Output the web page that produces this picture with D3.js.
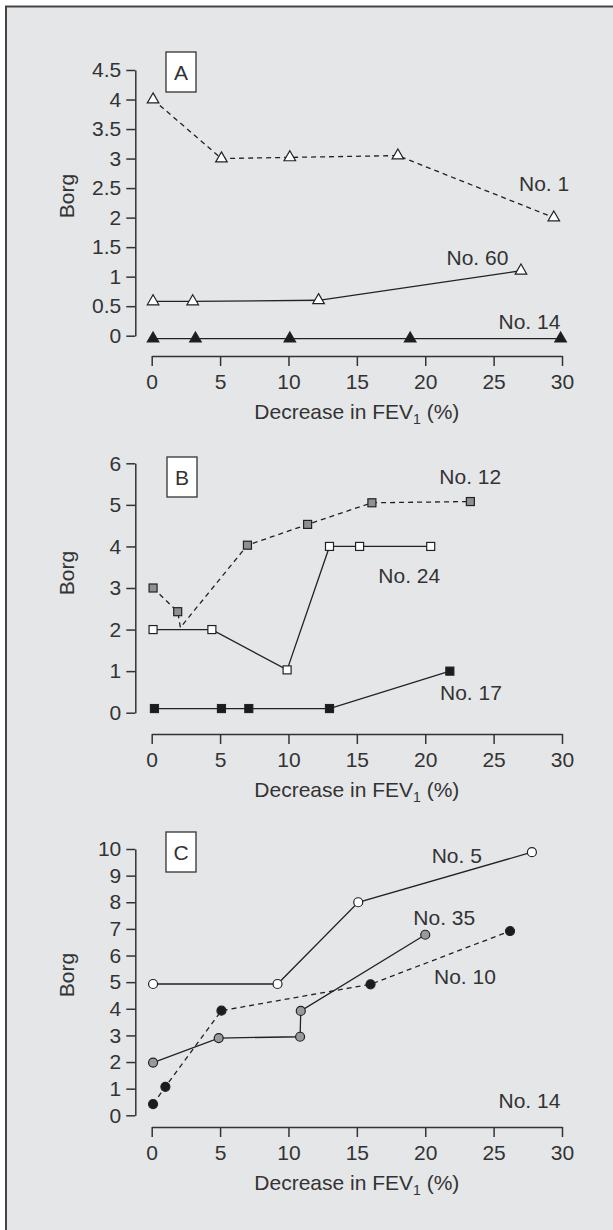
<html lang="en">
<head>
    <meta charset="UTF-8">
    <title>Borg vs decrease in FEV1</title>
    <script src="https://d3js.org/d3.v7.min.js"></script>
    <style>
        body { margin: 0; background: #fff; }
        svg text { font-family: "Liberation Sans", Arial, sans-serif; fill: #333; }
    </style>
</head>
<body>
    <script>
        // x ticks shared by all three panels
        const xTicks = [0, 5, 10, 15, 20, 25, 30];
        const yTicksA = [0, 0.5, 1, 1.5, 2, 2.5, 3, 3.5, 4, 4.5];
        const yTicksB = [0, 1, 2, 3, 4, 5, 6];
        const yTicksC = [0, 1, 2, 3, 4, 5, 6, 7, 8, 9, 10];

        // panel A  [decrease in FEV1 %, Borg]
        const no1 = [[0.1, 4.0], [5.1, 3.0], [10.1, 3.02], [18.0, 3.05], [29.4, 2.0]];
        const no60 = [[0.1, 0.58], [3.0, 0.58], [12.2, 0.6], [27.0, 1.1]];
        const no14 = [[0.1, -0.05], [3.2, -0.05], [10.1, -0.05], [18.9, -0.05], [29.9, -0.05]];

        // panel B
        const no12 = [[0.1, 3.0], [1.9, 2.43], [2.1, 2.05], [7.0, 4.03], [11.4, 4.53], [16.1, 5.05], [23.3, 5.08]];
        const no12NoMarker = [2];
        const no24 = [[0.1, 2.0], [4.4, 2.0], [9.9, 1.03], [13.0, 4.0], [15.2, 4.0], [20.4, 4.0]];
        const no17 = [[0.2, 0.1], [5.1, 0.1], [7.1, 0.1], [13.0, 0.1], [21.8, 1.0]];

        // panel C
        const no5 = [[0.1, 4.93], [9.2, 4.93], [15.1, 8.0], [27.8, 9.88]];
        const no35 = [[0.1, 1.98], [4.9, 2.9], [10.85, 2.95], [10.9, 3.92], [20.0, 6.78]];
        const no10 = [[0.1, 0.42], [1.0, 1.07], [5.1, 3.93], [16.0, 4.92], [26.2, 6.92]];

        const panelLetters = ['A', 'B', 'C'];
        const xLabel = 'Decrease in FEV';
        const yLabel = 'Borg';

        const w = 613, h = 1230;
        const svg = d3.select('body').append('svg')
            .attr('width', w)
            .attr('height', h);

        // grey plate with the frame line on the left and top
        svg.append('rect')
            .attr('x', 6).attr('y', 6.5)
            .attr('width', w).attr('height', h)
            .attr('fill', '#e5e6e8');
        svg.append('path')
            .attr('d', `M6,${h} L6,6.5 L${w},6.5`)
            .attr('fill', 'none')
            .attr('stroke', '#444')
            .attr('stroke-width', 2);

        const x = d3.scaleLinear().domain([0, 30]).range([151.7, 562]);

        const panels = [
            {
                letter: panelLetters[0], ticks: yTicksA, yMax: 4.5, yRange: [335.7, 70], xAxisY: 356,
                box: [166, 52], borgY: 196,
                series: [
                    {data: no1, marker: 'triangle', fill: '#fff', dashed: true},
                    {data: no60, marker: 'triangle', fill: '#fff'},
                    {data: no14, marker: 'triangle', fill: '#1c1c1c'}
                ],
                labels: [['No. 1', 519, 190.5], ['No. 60', 446.5, 265], ['No. 14', 498.5, 328.7]]
            },
            {
                letter: panelLetters[1], ticks: yTicksB, yMax: 6, yRange: [712.7, 463.3], xAxisY: 734,
                box: [167, 457], borgY: 573,
                series: [
                    {data: no12, marker: 'square', fill: '#909090', dashed: true, skip: no12NoMarker},
                    {data: no24, marker: 'square', fill: '#fff'},
                    {data: no17, marker: 'square', fill: '#1c1c1c'}
                ],
                labels: [['No. 12', 439.3, 484.3], ['No. 24', 378.3, 582.7], ['No. 17', 440, 700]]
            },
            {
                letter: panelLetters[2], ticks: yTicksC, yMax: 10, yRange: [1115.3, 849], xAxisY: 1127,
                box: [166, 832], borgY: 975,
                series: [
                    {data: no5, marker: 'circle', fill: '#fff'},
                    {data: no35, marker: 'circle', fill: '#9a9a9a'},
                    {data: no10, marker: 'circle', fill: '#1c1c1c', dashed: true}
                ],
                labels: [['No. 5', 431.7, 863.3], ['No. 35', 413.3, 925], ['No. 10', 434, 984.3], ['No. 14', 498.5, 1108.3]]
            }
        ];

        const line = d3.line();

        panels.forEach(p => {
            const y = d3.scaleLinear().domain([0, p.yMax]).range(p.yRange);
            const g = svg.append('g');

            const yAxis = d3.axisLeft(y)
                .tickValues(p.ticks)
                .tickSize(9)
                .tickSizeOuter(0)
                .tickPadding(5)
                .tickFormat(d3.format('~g'));
            g.append('g')
                .attr('transform', 'translate(135.3,0)')
                .call(yAxis);

            const xAxis = d3.axisBottom(x)
                .tickValues(xTicks)
                .tickSize(10)
                .tickSizeOuter(0)
                .tickPadding(8);
            g.append('g')
                .attr('transform', `translate(0,${p.xAxisY})`)
                .call(xAxis);

            g.selectAll('.domain, .tick line')
                .attr('stroke', '#333')
                .attr('stroke-width', 1.5);
            g.selectAll('.tick text')
                .attr('font-size', 21)
                .attr('font-family', '"Liberation Sans", Arial, sans-serif')
                .attr('fill', '#333');

            // x label with subscript 1
            const xl = g.append('text')
                .attr('x', x(15))
                .attr('y', p.xAxisY + 63)
                .attr('text-anchor', 'middle')
                .attr('font-size', 21);
            xl.append('tspan').text(xLabel);
            xl.append('tspan').attr('font-size', 14).attr('dy', 5).text('1');
            xl.append('tspan').attr('dy', -5).text(' (%)');

            g.append('text')
                .attr('transform', `translate(73.5,${p.borgY}) rotate(-90)`)
                .attr('text-anchor', 'middle')
                .attr('font-size', 21)
                .text(yLabel);

            // panel letter box
            g.append('rect')
                .attr('x', p.box[0]).attr('y', p.box[1])
                .attr('width', 30).attr('height', 40)
                .attr('fill', '#fff')
                .attr('stroke', '#333')
                .attr('stroke-width', 1.3);
            g.append('text')
                .attr('x', p.box[0] + 15)
                .attr('y', p.box[1] + 28)
                .attr('text-anchor', 'middle')
                .attr('font-size', 21)
                .text(p.letter);

            p.series.forEach(s => {
                g.append('path')
                    .datum(s.data.map(d => [x(d[0]), y(d[1])]))
                    .attr('d', line)
                    .attr('fill', 'none')
                    .attr('stroke', '#222')
                    .attr('stroke-width', 1.3)
                    .attr('stroke-dasharray', s.dashed ? '5,4' : null);
            });

            p.series.forEach(s => {
                const pts = s.data.filter((d, i) => !(s.skip && s.skip.includes(i)));
                const m = g.selectAll(null).data(pts);
                let sel;
                if (s.marker === 'triangle') {
                    sel = m.enter().append('path')
                        .attr('d', d3.symbol(d3.symbolTriangle, 58))
                        .attr('transform', d => `translate(${x(d[0])},${y(d[1])})`);
                } else if (s.marker === 'square') {
                    sel = m.enter().append('rect')
                        .attr('x', d => x(d[0]) - 4)
                        .attr('y', d => y(d[1]) - 4)
                        .attr('width', 8).attr('height', 8);
                } else {
                    sel = m.enter().append('circle')
                        .attr('cx', d => x(d[0]))
                        .attr('cy', d => y(d[1]))
                        .attr('r', 4.5);
                }
                sel.attr('fill', s.fill)
                    .attr('stroke', '#222')
                    .attr('stroke-width', 1.2);
            });

            g.selectAll(null)
                .data(p.labels)
                .enter()
                .append('text')
                .attr('x', d => d[1])
                .attr('y', d => d[2])
                .attr('font-size', 21)
                .text(d => d[0]);
        });
    </script>
</body>
</html>
